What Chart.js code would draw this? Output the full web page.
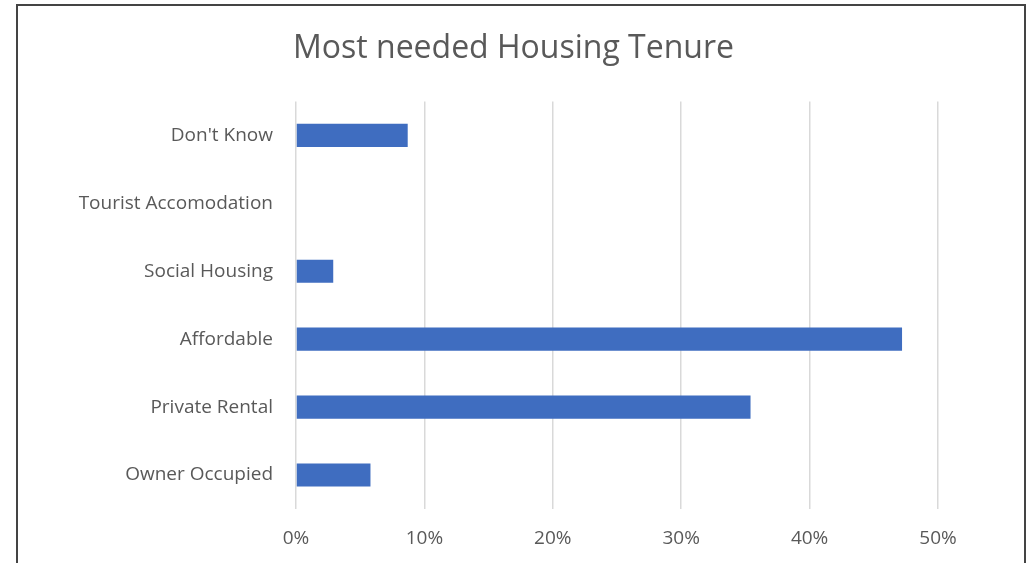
<!DOCTYPE html>
<html><head><meta charset="utf-8">
<script src="https://cdn.jsdelivr.net/npm/chart.js@4"></script>
<style>
html,body{margin:0;padding:0;background:#fff;}
#wrap{position:absolute;left:0;top:0;width:1027px;height:563px;}
#frame{position:absolute;left:16px;top:4px;width:1006px;height:580px;border-left:2px solid #444;border-top:2px solid #444;border-right:2px solid #444;}
canvas{position:absolute;left:0;top:0;}
</style></head><body>
<div id="wrap"><div id="frame"></div><canvas id="c" width="1027" height="563"></canvas></div>
<script>
const categories = ["Don't Know", "Tourist Accomodation", "Social Housing", "Affordable", "Private Rental", "Owner Occupied"];
const values = [8.7, 0, 2.9, 47.2, 35.4, 5.8];
const xTicks = [0, 10, 20, 30, 40, 50];
const titleText = "Most needed Housing Tenure";

const FONT = "'Open Sans', sans-serif";
new Chart(document.getElementById('c'), {
  type: 'bar',
  data: { labels: categories, datasets: [{ data: values, backgroundColor: '#3F6DC0', borderWidth: 0, categoryPercentage: 1, barPercentage: 0.34 }] },
  options: {
    indexAxis: 'y', responsive: false, animation: false,
    layout: { padding: { left: 0, right: 0, top: 10, bottom: 0 } },
    plugins: {
      legend: { display: false }, tooltip: { enabled: false },
      title: { display: true, text: titleText, color: '#595959', font: { family: FONT, size: 32, weight: 'normal' }, padding: { top: 20, bottom: 33 } }
    },
    scales: {
      x: { min: 0, max: 50, afterBuildTicks: s => { s.ticks = xTicks.map(v => ({ value: v })); },
        afterFit: s => { s.height = 54; },
        grid: { color: '#d9d9d9', lineWidth: 1.5, drawTicks: false }, border: { display: false },
        ticks: { padding: 18, color: '#595959', font: { family: FONT, size: 19 }, callback: v => v + '%' } },
      y: { grid: { display: false }, border: { display: false },
        afterFit: s => { s.width = 296; },
        ticks: { padding: 15, color: '#595959', font: { family: FONT, size: 19 } } },
      yRight: { type: 'category', position: 'right', labels: [''], display: true,
        grid: { display: false }, border: { display: false }, ticks: { display: false },
        afterFit: s => { s.width = 89; } }
    }
  }
});
</script></body></html>
